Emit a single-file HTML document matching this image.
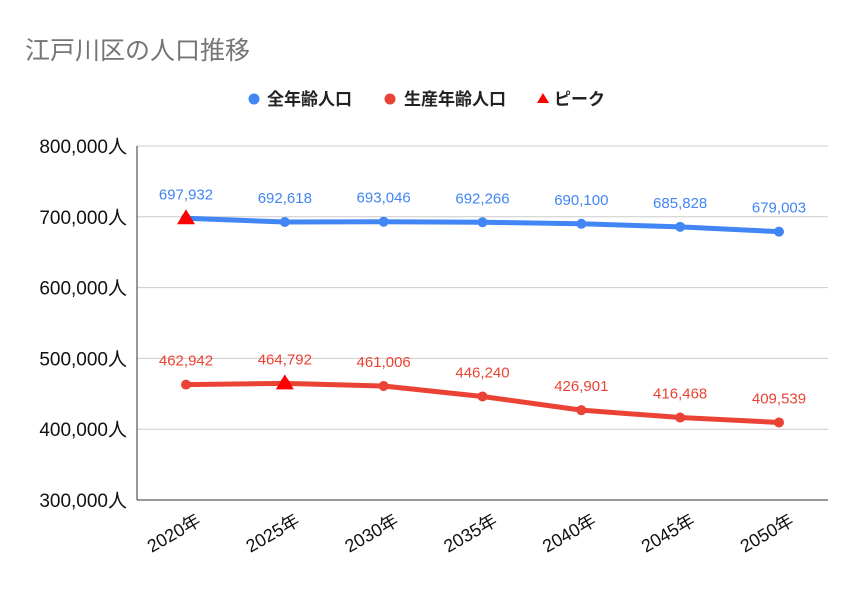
<!DOCTYPE html>
<html><head><meta charset="utf-8"><style>
body{margin:0;background:#fff;}
svg text{font-family:"Liberation Sans","Noto Sans CJK JP",sans-serif;}
</style></head><body>
<svg id="chart" width="857" height="586" xmlns="http://www.w3.org/2000/svg">
<rect width="857" height="586" fill="#fff"/>
<text x="25" y="59" font-size="25" fill="#757575">江戸川区の人口推移</text>
<g font-size="17" fill="#222" font-weight="bold">
<g><circle cx="254" cy="99" r="5.5" fill="#4285f4"/><text x="267" y="105">全年齢人口</text></g>
<g><circle cx="390" cy="99" r="5.5" fill="#ea4335"/><text x="404" y="105">生産年齢人口</text></g>
<g><polygon points="543,93 549,103 537,103" fill="#ff0000"/><text x="554" y="105">ピーク</text></g>
</g>
<g id="grid"></g><g id="axes"></g><g id="series"></g>
</svg>
<script>
const years=["2020年","2025年","2030年","2035年","2040年","2045年","2050年"];
const totalPop=[697932,692618,693046,692266,690100,685828,679003];
const workingPop=[462942,464792,461006,446240,426901,416468,409539];
const yTicks=[300000,400000,500000,600000,700000,800000];
const totalPeakIndex=0;
const workingPeakIndex=1;
const NS="http://www.w3.org/2000/svg";
const X0=186,X1=779,YT=146,YB=500,YMIN=300000,YMAX=800000;
function xs(i){return X0+(X1-X0)*i/(years.length-1);}
function ys(v){return YB-(v-YMIN)/(YMAX-YMIN)*(YB-YT);}
function mk(tag,attrs,parent){const e=document.createElementNS(NS,tag);for(const k in attrs)e.setAttribute(k,attrs[k]);parent.appendChild(e);return e;}
const grid=document.getElementById('grid'),axes=document.getElementById('axes'),ser=document.getElementById('series');
const fmt=v=>v.toLocaleString('en-US');
yTicks.forEach(t=>{
  const y=ys(t);
  if(t>YMIN){const l=mk('line',{x1:137,x2:828,y1:y,y2:y,stroke:'#cccccc','stroke-width':1},grid);
  
  }
  const tx=mk('text',{x:127,y:y+7,'text-anchor':'end','font-size':19,fill:'#111'},axes);
  tx.textContent=fmt(t)+'人';
  
  
});
const ax=mk('line',{x1:137,x2:828,y1:YB,y2:YB,stroke:'#333','stroke-width':1},axes);


const ay=mk('line',{x1:137,x2:137,y1:YT,y2:YB,stroke:'#333','stroke-width':1},axes);


years.forEach((yr,i)=>{
  const x=xs(i);
  const t=mk('text',{x:x+16,y:524,'text-anchor':'end','font-size':18,fill:'#111',transform:`rotate(-30 ${x+16} 524)`},axes);
  t.textContent=yr;
  
  
});
function series(vals,color,name,peak){
  const g=mk('g',{},ser);
  
  
  const p=mk('polyline',{points:vals.map((v,i)=>xs(i)+','+ys(v)).join(' '),fill:'none',stroke:color,'stroke-width':5,'stroke-linejoin':'round'},g);
  
  
  vals.forEach((v,i)=>{
    const c=mk('circle',{cx:xs(i),cy:ys(v),r:5,fill:color},g);
    
    
    const t=mk('text',{x:xs(i),y:ys(v)-19,'text-anchor':'middle','font-size':15,fill:color},g);
    t.textContent=fmt(v);
    
    
  });
  const px=xs(peak),py=ys(vals[peak]);
  const tri=mk('polygon',{points:`${px},${py-9} ${px+9},${py+6} ${px-9},${py+6}`,fill:'#ff0000'},g);
  
  
}
series(totalPop,'#4285f4','total-population',totalPeakIndex);
series(workingPop,'#ea4335','working-age-population',workingPeakIndex);
</script>
</body></html>
